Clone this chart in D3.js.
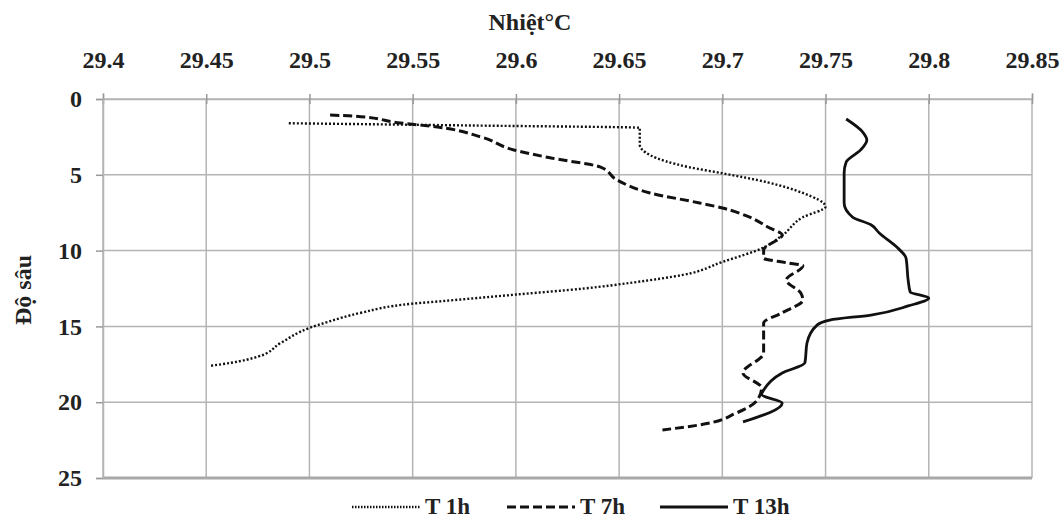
<!DOCTYPE html>
<html>
<head>
<meta charset="utf-8">
<script src="https://cdn.jsdelivr.net/npm/d3@7"></script>
<style>
  body { margin: 0; background: #fff; }
</style>
</head>
<body>
<div id="myChart"></div>
<script>
// x ticks (temperature) and y ticks (depth)
const tempTicks = [29.4, 29.45, 29.5, 29.55, 29.6, 29.65, 29.7, 29.75, 29.8, 29.85];
const depthTicks = [0, 5, 10, 15, 20, 25];

// T 1h profile
const depth1h = [1.6, 1.75, 1.9, 3.0, 3.7, 4.5, 4.9, 5.5, 6.2, 7.1, 7.8, 9.0, 9.8, 10.75, 11.6, 12.1, 12.5, 12.9, 13.3, 13.5, 14.1, 14.7, 15.1, 16.1, 17.0, 17.4, 17.6];
const temp1h  = [29.49, 29.58, 29.66, 29.66, 29.665, 29.684, 29.70, 29.722, 29.739, 29.75, 29.739, 29.729, 29.72, 29.70, 29.681, 29.657, 29.633, 29.60, 29.567, 29.55, 29.525, 29.509, 29.50, 29.486, 29.475, 29.462, 29.452];

// T 7h profile
const depth7h = [1.06, 1.12, 1.58, 1.85, 2.5, 3.36, 3.89, 4.49, 5.34, 6.2, 6.86, 7.19, 7.78, 8.44, 8.97, 9.96, 10.5, 10.8, 11.0, 11.94, 12.8, 13.26, 14.1, 14.78, 16.75, 18.07, 19.06, 19.85, 20.7, 21.5, 21.83];
const temp7h  = [29.51, 29.521, 29.544, 29.562, 29.583, 29.599, 29.617, 29.641, 29.649, 29.665, 29.689, 29.70, 29.713, 29.722, 29.729, 29.72, 29.72, 29.731, 29.739, 29.731, 29.738, 29.739, 29.729, 29.72, 29.72, 29.71, 29.719, 29.717, 29.707, 29.689, 29.671];

// T 13h profile
const depth13h = [1.32, 2.18, 2.7, 3.36, 4.16, 4.88, 6.86, 7.78, 8.3, 8.84, 9.83, 10.5, 11.94, 12.73, 13.13, 13.65, 14.25, 14.58, 14.9, 16.1, 17.4, 18.07, 19.2, 19.5, 20.05, 21.3];
const temp13h  = [29.76, 29.768, 29.77, 29.767, 29.76, 29.759, 29.759, 29.763, 29.772, 29.776, 29.785, 29.789, 29.79, 29.791, 29.80, 29.79, 29.772, 29.752, 29.746, 29.741, 29.74, 29.729, 29.72, 29.719, 29.729, 29.71];

const seriesNames = ["T 1h", "T 7h", "T 13h"];

const FONT = "'Liberation Serif', 'Times New Roman', serif";

let margin = {top: 99, right: 30, bottom: 40, left: 103},
    width = 1063 - margin.left - margin.right,
    height = 518 - margin.top - margin.bottom;

let svg = d3.select("#myChart")
  .append("svg")
    .attr("width", 1063)
    .attr("height", 518)
  .append("g")
    .attr("transform", `translate(${margin.left}, ${margin.top})`);

const x = d3.scaleLinear().domain([29.4, 29.85]).range([0, 929]);
const y = d3.scaleLinear().domain([0, 25]).range([0, 379]);

// gridlines
svg.selectAll("line.vgrid")
  .data(tempTicks)
  .join("line")
    .attr("class", "vgrid")
    .attr("x1", d => x(d)).attr("x2", d => x(d))
    .attr("y1", 0).attr("y2", y(25))
    .attr("stroke", "#b4b4b4")
    .attr("stroke-width", 1.5);

svg.selectAll("line.hgrid")
  .data(depthTicks)
  .join("line")
    .attr("class", "hgrid")
    .attr("x1", 0).attr("x2", x(29.85))
    .attr("y1", d => y(d)).attr("y2", d => y(d))
    .attr("stroke", d => d === 25 ? "#a8a8a8" : "#b4b4b4")
    .attr("stroke-width", d => d === 25 ? 3 : 1.5);

// top axis
const xAxis = svg.append("g")
  .call(d3.axisTop(x).tickValues(tempTicks).tickFormat(d => String(d)).tickSize(6).tickPadding(25));
xAxis.attr("font-family", FONT);
xAxis.select(".domain").attr("stroke", "#b4b4b4").attr("stroke-width", 1.5);
xAxis.selectAll(".tick line").attr("stroke", "#999").attr("stroke-width", 1.5).attr("y2", -5).attr("y1", 5);
xAxis.selectAll(".tick text")
  .style("font-family", FONT).style("font-weight", "bold")
  .attr("font-size", "24px").attr("fill", "#222");

// left axis
const yAxis = svg.append("g")
  .call(d3.axisLeft(y).tickValues(depthTicks).tickSize(7).tickPadding(14));
yAxis.attr("font-family", FONT);
yAxis.select(".domain").attr("stroke", "#b4b4b4").attr("stroke-width", 1.5);
yAxis.selectAll(".tick line").attr("stroke", "#999").attr("stroke-width", 1.5);
yAxis.selectAll(".tick text")
  .style("font-family", FONT).style("font-weight", "bold")
  .attr("font-size", "24px").attr("fill", "#222");

// axis titles
svg.append("text")
  .attr("x", 530 - margin.left)
  .attr("y", 30 - margin.top)
  .attr("text-anchor", "middle")
  .style("font-family", FONT).style("font-weight", "bold")
  .attr("font-size", "24px").attr("fill", "#222")
  .text("Nhiệt°C");

svg.append("text")
  .attr("transform", `translate(${31 - margin.left}, ${290 - margin.top}) rotate(-90)`)
  .attr("text-anchor", "middle")
  .style("font-family", FONT).style("font-weight", "bold")
  .attr("font-size", "24px").attr("fill", "#222")
  .text("Độ sâu");

// series lines
const styles = [
  {dash: "2,2", w: 2.4},
  {dash: "9,4", w: 3},
  {dash: null, w: 2.8}
];
const series = [
  d3.zip(depth1h, temp1h),
  d3.zip(depth7h, temp7h),
  d3.zip(depth13h, temp13h)
];

const line = d3.line()
  .x(d => x(d[1]))
  .y(d => y(d[0]))
  .curve(d3.curveMonotoneY);

svg.selectAll("path.series")
  .data(series)
  .join("path")
    .attr("class", "series")
    .attr("d", line)
    .attr("fill", "none")
    .attr("stroke", "#111")
    .attr("stroke-width", (d, i) => styles[i].w)
    .attr("stroke-dasharray", (d, i) => styles[i].dash);

// legend
const legendX = [352, 507, 660];
const legend = svg.append("g").attr("transform", `translate(${-margin.left}, ${-margin.top})`);
seriesNames.forEach((name, i) => {
  legend.append("line")
    .attr("x1", legendX[i]).attr("x2", legendX[i] + 68)
    .attr("y1", 507).attr("y2", 507)
    .attr("stroke", "#111")
    .attr("stroke-width", styles[i].w)
    .attr("stroke-dasharray", i === 0 ? "1.5,1.5" : styles[i].dash);
  legend.append("text")
    .attr("x", legendX[i] + 73)
    .attr("y", 514)
    .style("font-family", FONT).style("font-weight", "bold")
    .attr("font-size", "23px").attr("fill", "#222")
    .text(name);
});
</script>
</body>
</html>
